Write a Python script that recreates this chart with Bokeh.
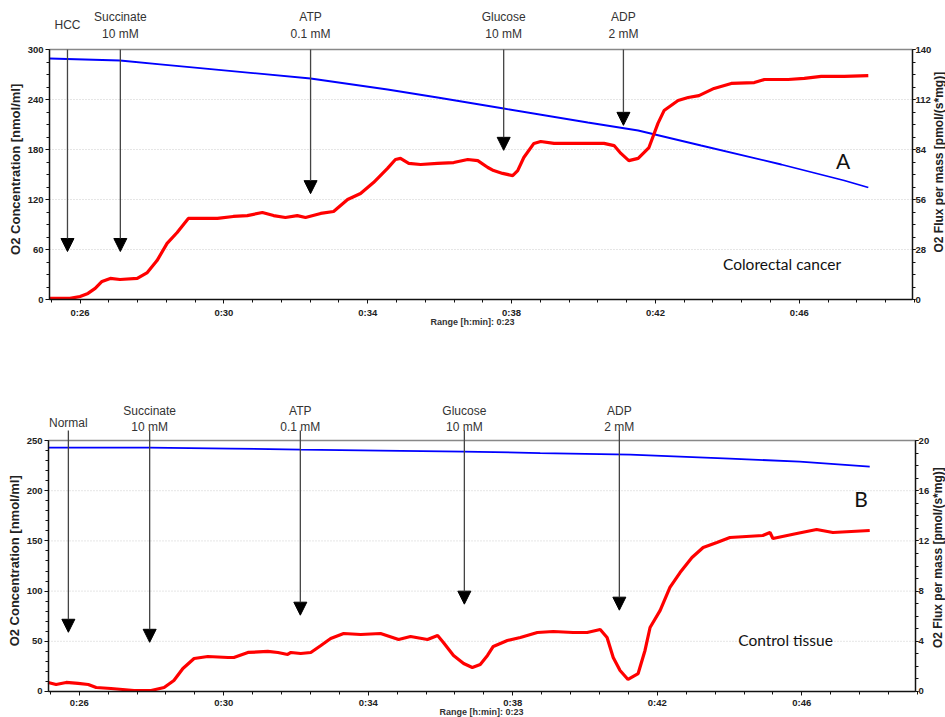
import math
from bokeh.plotting import figure
from bokeh.models import Range1d, LinearAxis, FixedTicker, Label, Arrow, NormalHead
from bokeh.layouts import column
from bokeh.embed import file_html
from bokeh.resources import INLINE

# ---------------- data (time in minutes) ----------------
x_tick_values = [26, 30, 34, 38, 42, 46]
x_tick_labels = ["0:26", "0:30", "0:34", "0:38", "0:42", "0:46"]
range_text = "Range [h:min]: 0:23"
o2_label = "O2 Concentration  [nmol/ml]"
flux_label = "O2 Flux per mass  [pmol/(s*mg)]"

# Panel A : colorectal cancer
a_time_flux = [25.16, 25.72, 26.00, 26.22, 26.42, 26.61, 26.84, 27.11, 27.59, 27.87, 28.14, 28.42, 28.70,
               29.01, 29.34, 29.82, 30.26, 30.65, 31.07, 31.38, 31.71, 32.04, 32.27, 32.69, 33.05, 33.44,
               33.80, 34.16, 34.55, 34.77, 34.91, 35.14, 35.47, 35.94, 36.39, 36.78, 37.06, 37.34, 37.50,
               37.75, 38.03, 38.17, 38.34, 38.62, 38.81, 39.18, 39.57, 40.12, 40.57, 40.85, 41.04, 41.26,
               41.52, 41.82, 42.07, 42.24, 42.63, 42.91, 43.21, 43.63, 44.11, 44.75, 45.03, 45.69, 46.14,
               46.61, 47.25, 47.92]
a_flux = [0.6, 0.6, 1.7, 3.4, 6.2, 10.1, 11.8, 11.2, 11.8, 15.1, 21.8, 31.4, 37.5,
          45.4, 45.4, 45.4, 46.5, 47.0, 48.7, 47.0, 45.9, 47.0, 45.9, 48.2, 49.3, 56.0,
          59.4, 65.5, 73.4, 78.4, 79.0, 76.2, 75.6, 76.2, 76.7, 78.4, 77.8, 73.9, 72.2,
          70.6, 69.4, 72.2, 79.5, 87.4, 88.5, 87.4, 87.4, 87.4, 87.4, 86.2, 81.8, 77.8,
          79.0, 85.1, 98.6, 105.8, 111.4, 113.1, 114.2, 118.2, 121.0, 121.5, 123.2, 123.2, 123.8,
          124.9, 124.9, 125.4]
a_time_o2 = [25.15, 27.11, 28.23, 29.34, 30.74, 32.41, 34.55, 35.94, 37.78, 40.12, 41.52, 43.27, 45.50, 47.25, 47.92]
a_o2 = [289.2, 286.8, 282.2, 277.7, 272.0, 265.2, 252.0, 242.4, 229.2, 212.4, 202.8, 184.8, 162.0, 142.8, 134.4]
a_event_names = ["HCC", "Succinate", "ATP", "Glucose", "ADP"]
a_event_doses = ["", "10 mM", "0.1 mM", "10 mM", "2 mM"]
a_event_times = [25.65, 27.12, 32.41, 37.78, 41.11]
a_event_tips = [57.6, 57.6, 127.0, 179.0, 209.0]

# Panel B : control tissue
b_time_flux = [25.14, 25.36, 25.64, 25.97, 26.25, 26.47, 26.88, 27.52, 27.99, 28.35, 28.62, 28.87, 29.18,
               29.56, 30.12, 30.28, 30.67, 31.22, 31.50, 31.77, 31.86, 32.13, 32.41, 32.69, 32.96, 33.32,
               33.79, 34.34, 34.84, 35.17, 35.64, 35.92, 36.08, 36.36, 36.64, 36.88, 37.10, 37.30, 37.46,
               37.85, 38.21, 38.68, 39.12, 39.67, 40.06, 40.42, 40.61, 40.78, 40.97, 41.19, 41.47, 41.66,
               41.80, 42.08, 42.35, 42.63, 42.96, 43.27, 43.65, 44.01, 44.92, 45.12, 45.20, 45.86, 46.41,
               46.86, 47.88]
b_flux = [0.72, 0.56, 0.72, 0.64, 0.56, 0.32, 0.24, 0.08, 0.08, 0.32, 0.88, 1.83, 2.63,
          2.79, 2.71, 2.71, 3.11, 3.19, 3.11, 2.95, 3.11, 3.03, 3.11, 3.67, 4.22, 4.62,
          4.54, 4.62, 4.14, 4.38, 4.14, 4.46, 3.91, 2.87, 2.23, 1.91, 2.15, 2.87, 3.59,
          4.06, 4.30, 4.70, 4.78, 4.70, 4.70, 4.94, 4.30, 2.71, 1.67, 0.96, 1.43, 3.27,
          5.10, 6.46, 8.29, 9.48, 10.68, 11.48, 11.88, 12.27, 12.43, 12.67, 12.19, 12.59, 12.91,
          12.67, 12.83]
b_time_o2 = [25.15, 27.93, 30.20, 32.13, 34.34, 36.64, 38.76, 41.25, 44.01, 45.94, 47.88]
b_o2 = [243.0, 243.0, 242.0, 241.0, 240.0, 239.0, 237.5, 236.0, 232.0, 229.0, 224.0]
b_event_names = ["Normal", "Succinate", "ATP", "Glucose", "ADP"]
b_event_doses = ["", "10 mM", "0.1 mM", "10 mM", "2 mM"]
b_event_times = [25.70, 27.95, 32.12, 36.66, 40.95]
b_event_tips = [59.0, 49.0, 76.0, 87.0, 81.0]

X_START, X_END = 25.15, 49.15
FONT = "Liberation Sans"


def style_axis(ax):
    ax.axis_line_color = "#111111"
    ax.axis_line_width = 1.5
    ax.major_tick_line_color = "#111111"
    ax.major_tick_out = 4
    ax.major_tick_in = 0
    ax.minor_tick_line_color = "#111111"
    ax.minor_tick_out = 3
    ax.minor_tick_in = 0
    ax.major_label_text_font = FONT
    ax.major_label_text_font_size = "9.5px"
    ax.major_label_text_font_style = "bold"
    ax.major_label_text_color = "#222222"
    ax.major_label_standoff = 2


def text(p, x, y, s, size="12px", font=FONT, style="normal", color="#333333", angle=0.0):
    p.add_layout(Label(x=x, y=y, text=s, text_font=font, text_font_size=size, text_font_style=style,
                       text_color=color, text_align="center", text_baseline="middle", angle=angle))


def make_panel(h, xr, yr, ymax, ystep, yminor, y2max, y2step, y2minor,
               t_flux, flux, t_o2, o2, ev_names, ev_doses, ev_times, ev_tips, ev_start,
               lab_y, letter, letter_pos, caption, caption_pos, ylab_pos, y2lab_pos, range_pos, x_std):
    p = figure(width=945, height=h, x_range=Range1d(*xr), y_range=Range1d(*yr),
               output_backend="svg", toolbar_location=None,
               min_border_top=0, min_border_bottom=0, min_border_left=0, min_border_right=0)
    k = y2max / ymax
    p.extra_y_ranges = {"flux": Range1d(yr[0] * k, yr[1] * k)}
    p.outline_line_color = None
    p.background_fill_color = "white"
    p.border_fill_color = "white"
    p.xgrid.visible = False
    p.ygrid.visible = False

    x_minor = [26 + 0.8 * i for i in range(-1, 30)]
    p.xaxis.ticker = FixedTicker(ticks=x_tick_values, minor_ticks=x_minor)
    p.xaxis.major_label_overrides = dict(zip(x_tick_values, x_tick_labels))
    p.xaxis.fixed_location = 0
    p.xaxis.bounds = (X_START, X_END)

    y_major = [ystep * i for i in range(int(round(ymax / ystep)) + 1)]
    p.yaxis.ticker = FixedTicker(ticks=y_major,
                                 minor_ticks=[yminor * i for i in range(int(round(ymax / yminor)) + 1)])
    p.yaxis.fixed_location = X_START
    p.yaxis.bounds = (0, ymax)

    ax2 = LinearAxis(y_range_name="flux", bounds=(0, y2max), fixed_location=X_END,
                     ticker=FixedTicker(ticks=[y2step * i for i in range(int(round(y2max / y2step)) + 1)],
                                        minor_ticks=[y2minor * i for i in range(int(round(y2max / y2minor)) + 1)]))
    p.add_layout(ax2, "right")
    for ax in [p.xaxis[0], p.yaxis[0], ax2]:
        style_axis(ax)
    p.xaxis.major_label_standoff = x_std
    ax2.major_tick_out = 3
    ax2.major_label_standoff = 0

    # dotted horizontal grid and grey top border of the frame
    gy = y_major[1:-1]
    p.segment(x0=[X_START] * len(gy), y0=gy, x1=[X_END] * len(gy), y1=gy,
              line_color="#cccccc", line_dash="1 2", line_width=1)
    p.segment(x0=[X_START], y0=[ymax], x1=[X_END], y1=[ymax], line_color="#888888", line_width=1.5)

    p.line(t_o2, o2, line_color="#0000ff", line_width=1.8)
    p.line(t_flux, flux, y_range_name="flux", line_color="#ff0000", line_width=3.2)

    for name, dose, t, tip in zip(ev_names, ev_doses, ev_times, ev_tips):
        p.add_layout(Arrow(end=NormalHead(size=13, fill_color="black", line_color="black"),
                           x_start=t, y_start=ev_start, x_end=t, y_end=tip,
                           line_color="#444444", line_width=1.3))
        if dose:
            text(p, t, lab_y[0], name)
            text(p, t, lab_y[1], dose)
        else:
            text(p, t, lab_y[2], name)

    text(p, letter_pos[0], letter_pos[1], letter, size="21px", font="Lato", color="#111111")
    text(p, caption_pos[0], caption_pos[1], caption, size="15.5px", font="Lato", color="#111111")
    text(p, ylab_pos[0], ylab_pos[1], o2_label, size="13px", style="bold", color="#222222", angle=math.pi / 2)
    text(p, y2lab_pos[0], y2lab_pos[1], flux_label, size="12px", style="bold", color="#222222", angle=math.pi / 2)
    text(p, range_pos[0], range_pos[1], range_text, size="9px", style="bold", color="#333333")
    return p


pA = make_panel(333, (23.7874, 50.0665), (-40.8, 358.8), 300, 60, 15, 140, 28, 7,
                a_time_flux, a_flux, a_time_o2, a_o2,
                a_event_names, a_event_doses, a_event_times, a_event_tips, 300,
                (338.8, 319.2, 329.2), "A", (47.22, 167.4), "Colorectal cancer", (45.52, 43.2),
                (24.205, 158.4), (49.872, 166.8), (36.913, -26.4), 3)

pB = make_panel(384, (23.8215, 49.977), (-25.9, 356.6), 250, 50, 10, 20, 4, 1,
                b_time_flux, b_flux, b_time_o2, b_o2,
                b_event_names, b_event_doses, b_event_times, b_event_tips, 260,
                (279.4, 263.9, 267.9), "B", (47.638, 192.7), "Control tissue", (45.549, 50.8),
                (24.209, 132.0), (49.756, 135.0), (37.134, -20.9), 2)

layout = column(pA, pB, spacing=0)
open("out.html", "w").write(file_html(layout, INLINE))
